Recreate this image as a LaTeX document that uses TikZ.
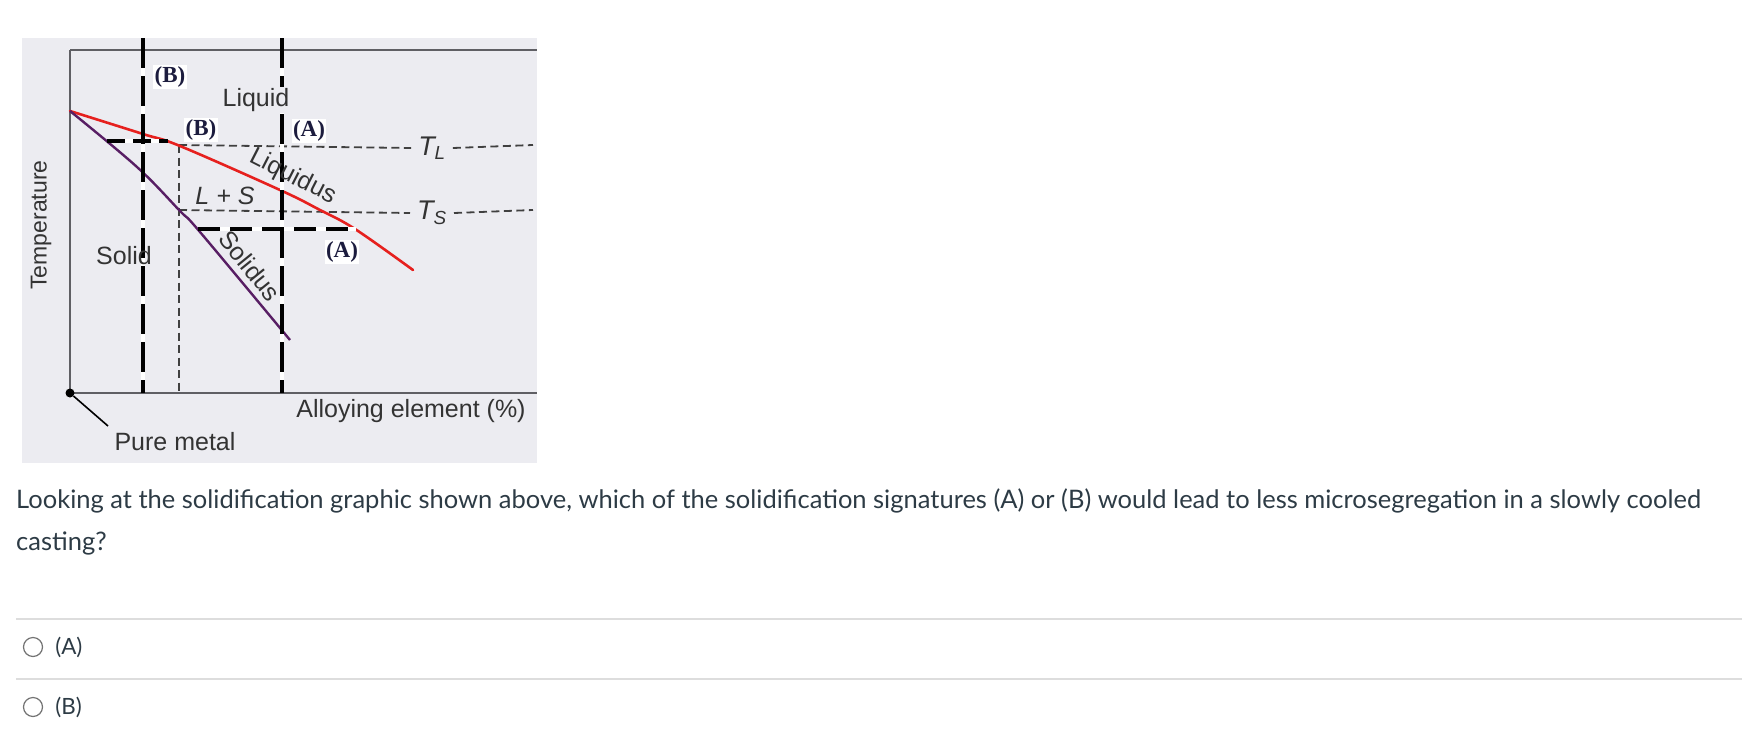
\documentclass[tikz,border=0pt]{standalone}
\usepackage{fontspec}
\setmainfont{Lato}
\newfontfamily\diagfont{Liberation Sans}
\newfontfamily\tagfont{Liberation Serif}
\usetikzlibrary{positioning}

\definecolor{panelgray}{RGB}{236,236,241}
\definecolor{axisgray}{RGB}{95,95,100}
\definecolor{liqred}{RGB}{230,32,30}
\definecolor{solpurple}{RGB}{88,30,100}
\definecolor{tagnavy}{RGB}{28,28,62}
\definecolor{qtextcol}{RGB}{45,59,69}
\definecolor{rulegray}{RGB}{221,221,221}
\definecolor{radiogray}{RGB}{115,115,115}

\tikzset{
  axisline/.style={draw=axisgray, line width=1.4pt},
  thindash/.style={draw=black!75, line width=1.8pt, dash pattern=on 8pt off 4.5pt},
  thickdash/.style={draw=black, line width=3.6pt, dash pattern=on 30pt off 8pt,
    preaction={draw=white, solid, line width=3.6pt}},
  tag/.style={font=\tagfont\bfseries\fontsize{23}{23}\selectfont, text=tagnavy,
    fill=white, inner sep=1.5pt},
  lbl/.style={font=\diagfont\fontsize{25}{25}\selectfont, text=black!80, inner sep=0pt},
  tlbl/.style={font=\diagfont\itshape\fontsize{27}{27}\selectfont, text=black!80, inner sep=0pt},
  qtext/.style={font=\fontsize{25.5}{30}\selectfont, text=qtextcol, inner sep=0pt},
  otext/.style={font=\fontsize{22.4}{26}\selectfont, text=qtextcol, inner sep=0pt},
  radio/.style={circle, draw=radiogray, line width=1.2pt, minimum size=19pt, inner sep=0pt},
}

\begin{document}
\begin{tikzpicture}[x=1pt,y=-1pt]
\useasboundingbox (0,0) rectangle (1742,728);

% panel and axes
\fill[panelgray] (22,38) rectangle (537,463);
\draw[axisline] (70,50) -- (537,50);
\draw[axisline] (70,50) -- (70,393) -- (537,393);

% temperature levels
\coordinate (tlstart) at (179,145);
\coordinate (tlend) at (533,145);
\coordinate (tsstart) at (179,210);
\coordinate (tsend) at (533,210);
\coordinate (cbot) at (179,393);
\node[tlbl] (TL) at (432,148) {T\textsubscript{L}};
\node[tlbl] (TS) at (432,213) {T\textsubscript{S}};
\draw[thindash] (tlstart) -- ([xshift=-7pt]TL.west);
\draw[thindash] ([xshift=7pt]TL.east) -- (tlend);
\draw[thindash] (tsstart) -- ([xshift=-7pt]TS.west);
\draw[thindash] ([xshift=7pt]TS.east) -- (tsend);
\draw[thindash] (tlstart) -- (cbot);

% liquidus and solidus
\draw[liqred, line width=2.6pt, line cap=round] plot[smooth, tension=0.6] coordinates
  {(70,111) (143,134) (180,146) (280,190) (320,210) (355,229) (413,270)};
\draw[solpurple, line width=2.4pt] plot[smooth, tension=0.6] coordinates
  {(70,111) (137,167) (180,211) (200,232) (290,340)};

% solidification paths (A) and (B)
\coordinate (btop) at (143,38);
\coordinate (bbot) at (143,393);
\coordinate (atop) at (282,38);
\coordinate (abot) at (282,393);
\coordinate (bleft) at (107,141);
\coordinate (bright) at (168,141);
\coordinate (aleft) at (198,229);
\coordinate (aright) at (356,229);
\draw[thickdash] (btop) -- (bbot);
\draw[thickdash] (atop) -- (abot);
\draw[thickdash, dash pattern=on 18pt off 8pt] (bleft) -- (bright);
\draw[thickdash, dash pattern=on 22pt off 10pt] (aleft) -- (aright);

% region and curve labels
\node[lbl, fill=panelgray, inner sep=1pt] (liquid) at (256,100) {Liquid};
\node[lbl] (lands) at (225,196) {\itshape L + S};
\node[lbl] (solid) at (124,256) {Solid};
\node[lbl, rotate=-27] (liquidus) at (293,177) {Liquidus};
\node[lbl, rotate=-51] (solidus) at (250,266) {Solidus};
\node[tag] (Btop) at (170,77) {(B)};
\node[tag] (Bmid) at (201,130) {(B)};
\node[tag] (Amid) at (309,131) {(A)};
\node[tag] (Alow) at (342,252) {(A)};

% axis labels
\node[lbl, rotate=90, font=\diagfont\fontsize{23}{23}\selectfont] (temp) at (41,225) {Temperature};
\node[lbl] (alloy) at (411,411) {Alloying element (\%)};
\node[circle, fill=black, inner sep=0pt, minimum size=9pt] (origin) at (70,393) {};
\coordinate (pmend) at (108,426);
\draw[line width=1.6pt] (origin) -- (pmend);
\node[lbl] (puremetal) at (175,442) {Pure metal};

% question and answers
\node[qtext, anchor=west] (question) at (16,501) {Looking at the solidification graphic shown above, which of the solidification signatures (A) or (B) would lead to less microsegregation in a slowly cooled};
\node[qtext, anchor=west] (question2) at (16,543) {casting?};
\draw[rulegray, line width=2pt] (16,619) -- (1742,619);
\draw[rulegray, line width=2pt] (16,679) -- (1742,679);
\node[radio] (radioA) at (33,647) {};
\node[otext, right=12pt of radioA] (optA) {(A)};
\node[radio] (radioB) at (33,707) {};
\node[otext, right=12pt of radioB] (optB) {(B)};
\end{tikzpicture}
\end{document}
